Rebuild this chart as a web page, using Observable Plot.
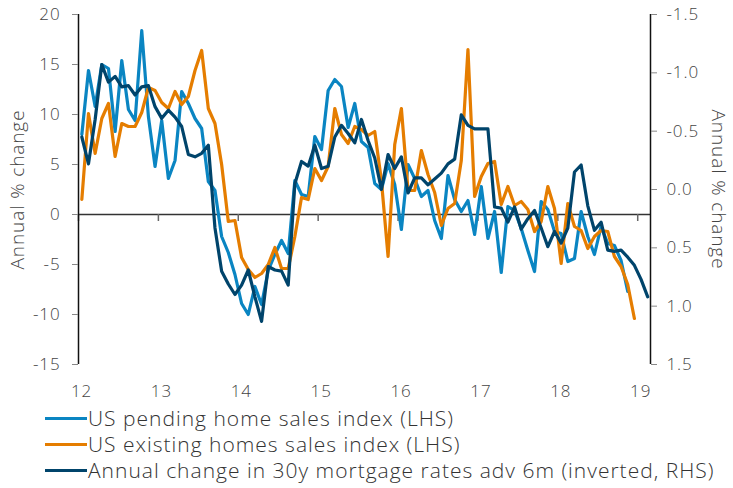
<!DOCTYPE html>
<html><head><meta charset="utf-8">
<script src="https://cdn.jsdelivr.net/npm/d3@7"></script>
<script src="https://cdn.jsdelivr.net/npm/@observablehq/plot@0.6"></script>
<style>
body{margin:0;background:#fff;font-family:"Open Sans",sans-serif;}
#chart{position:absolute;left:0;top:0;}
#legend{position:absolute;left:45px;top:405px;font-size:21px;letter-spacing:1px;font-weight:300;color:#333;line-height:26px;}
.item{display:flex;align-items:center;height:26px;white-space:nowrap;}
.sw{width:42px;height:3px;margin-right:1px;}
svg text{letter-spacing:0.9px;font-weight:300;}
</style></head><body>
<div id="chart"></div>
<div id="legend"></div>
<script>
const startYear = 12;
const pending = [8.0,14.4,10.8,15.0,14.6,8.3,15.4,10.5,9.4,18.4,
 9.8,4.8,9.4,3.6,5.4,12.3,11.1,9.6,8.6,3.3,
 2.4,-2.2,-3.8,-6.0,-8.9,-10.0,-7.2,-9.0,-5.6,-4.0,
 -2.6,-3.9,3.4,2.0,1.8,7.8,6.5,12.4,13.5,12.8,
 8.7,11.1,7.3,6.7,3.1,2.5,5.1,3.0,-1.5,5.0,
 3.6,1.8,2.4,-0.6,-2.4,3.9,1.5,0.3,1.4,-2.0,
 2.8,-2.4,0.3,-5.8,0.8,0.4,-1.4,-3.6,-5.7,1.3,
 0.5,-1.7,-1.9,-4.7,-4.4,0.3,-2.2,-4.0,-1.2,-2.9,
 -3.1,-4.6,-7.7];
const existing = [1.5,10.1,6.1,9.6,11.1,5.8,9.1,8.8,8.8,10.2,
 12.7,12.4,11.2,10.6,12.3,11.0,11.8,14.4,16.4,10.6,
 9.1,5.0,-0.7,-0.6,-4.3,-5.5,-6.3,-5.9,-5.0,-3.3,
 -5.4,-5.4,-2.2,1.7,1.5,4.6,3.4,4.8,10.6,8.0,
 7.1,8.8,8.5,7.9,8.3,3.4,-4.2,7.0,10.6,2.4,
 2.4,6.4,4.0,2.2,-1.1,0.6,1.1,5.4,16.5,1.8,
 3.8,5.1,5.3,1.0,2.8,0.9,1.3,0.5,-1.7,-0.7,
 2.8,0.6,-4.9,1.1,-1.2,-1.6,-3.4,-2.2,-1.6,-1.7,
 -4.2,-5.2,-7.0,-10.4];
const mortgage = [-0.45,-0.22,-0.6,-1.07,-0.92,-0.97,-0.88,-0.89,-0.81,-0.88,
 -0.89,-0.71,-0.61,-0.68,-0.62,-0.54,-0.30,-0.28,-0.31,-0.38,
 0.33,0.70,0.81,0.90,0.82,0.69,0.92,1.13,0.66,0.69,
 0.70,0.82,-0.05,-0.24,-0.20,-0.38,-0.18,-0.20,-0.45,-0.55,
 -0.48,-0.40,-0.60,-0.42,-0.27,0.00,-0.30,-0.18,-0.28,0.03,
 -0.10,-0.10,-0.04,-0.09,-0.14,-0.22,-0.26,-0.64,-0.55,-0.52,
 -0.52,-0.52,0.15,0.16,0.28,0.15,0.34,0.25,0.18,0.33,
 0.49,0.36,0.46,0.33,-0.15,-0.21,0.14,0.35,0.28,0.52,
 0.53,0.52,0.58,0.65,0.77,0.92];
const seriesNames = ["US pending home sales index (LHS)","US existing homes sales index (LHS)","Annual change in 30y mortgage rates adv 6m (inverted, RHS)"];
const colors = ["#0a85c2","#e57d00","#00446b"];
const leftTicks = [-15,-10,-5,0,5,10,15,20];
const rightTicks = [-1.5,-1,-0.5,0,0.5,1,1.5];
const xTicks = [12,13,14,15,16,17,18,19];
const xDomain = [12, 19.16];
const yDomain = [-15, 20];

// right axis (inverted) mapped onto left-axis units
const toLeft = r => 2.5 - 35/3*r;
const toRight = l => (2.5 - l)*3/35;
const monthX = k => startYear + (k + 0.5)/12;

const toRows = (arr, f = d => d) => arr.map((v, i) => ({x: monthX(i), y: f(v)}));

const font = "'Open Sans', sans-serif";
const plot = Plot.plot({
  width: 733, height: 412,
  marginLeft: 78, marginRight: 83, marginTop: 14, marginBottom: 48,
  style: {fontFamily: font, fontSize: "17px", color: "#444", background: "transparent"},
  x: {domain: xDomain},
  y: {domain: yDomain},
  marks: [
    Plot.ruleY([0], {stroke: "#333", strokeWidth: 1.3}),
    Plot.ruleX(xTicks, {x: d => d, y1: 0, y2: -0.7, stroke: "#666", strokeWidth: 1.5}),
    Plot.line(toRows(pending), {x: "x", y: "y", stroke: colors[0], strokeWidth: 3.2}),
    Plot.line(toRows(existing), {x: "x", y: "y", stroke: colors[1], strokeWidth: 3.2}),
    Plot.line(toRows(mortgage, toLeft), {x: "x", y: "y", stroke: colors[2], strokeWidth: 3.2}),
    Plot.ruleX([xDomain[0]], {stroke: "#111", strokeWidth: 1.5}),
    Plot.ruleX([xDomain[1]], {stroke: "#111", strokeWidth: 1.5}),
    Plot.axisY({anchor: "left", ticks: leftTicks, tickSize: 6, tickPadding: 12, tickFormat: d => String(d), stroke: "#888", fill: "#444", label: null, fontSize: 17}),
    Plot.axisY({anchor: "right", ticks: rightTicks.map(toLeft), tickSize: 6, tickPadding: 10, tickFormat: d => toRight(d).toFixed(1), stroke: "#888", fill: "#444", label: null, fontSize: 17}),
    Plot.axisX({anchor: "bottom", ticks: xTicks, tickSize: 0, tickPadding: 20, dx: 3, tickFormat: d => String(d), fill: "#444", label: null, fontSize: 17}),
    Plot.text(["Annual % change"], {frameAnchor: "left", dx: -61, rotate: -90, textAnchor: "middle", fontSize: 19, fill: "#444"}),
    Plot.text(["Annual % change"], {frameAnchor: "right", dx: 68, rotate: 90, textAnchor: "middle", fontSize: 19, fill: "#444"})
  ]
});
document.getElementById("chart").appendChild(plot);

const legend = document.getElementById("legend");
seriesNames.forEach((name, i) => {
  const item = document.createElement("div");
  item.className = "item";
  const sw = document.createElement("span");
  sw.className = "sw";
  sw.style.background = colors[i];
  const t = document.createElement("span");
  t.textContent = name;
  item.appendChild(sw); item.appendChild(t);
  legend.appendChild(item);
});
</script>
</body></html>
